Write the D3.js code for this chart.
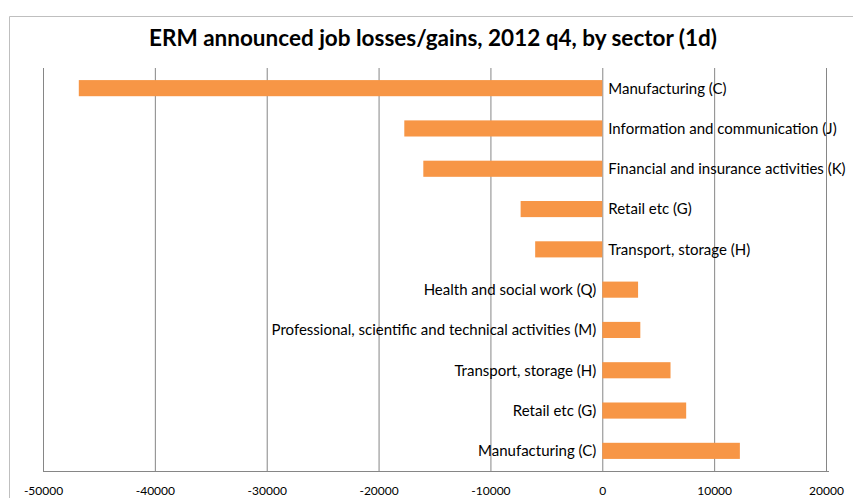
<!DOCTYPE html>
<html>
<head>
<meta charset="utf-8">
<script src="https://cdn.jsdelivr.net/npm/d3@7/dist/d3.min.js"></script>
<style>
  body { margin: 0; background: #fff; }
  svg { display: block; }
  text { font-family: Lato, "Open Sans", sans-serif; fill: #000; }
</style>
</head>
<body>
<svg id="chart" width="853" height="498"></svg>
<script>
// Data (top to bottom as drawn)
const categories = [
  "Manufacturing (C)",
  "Information and communication (J)",
  "Financial and insurance activities (K)",
  "Retail etc (G)",
  "Transport, storage (H)",
  "Health and social work (Q)",
  "Professional, scientific and technical activities (M)",
  "Transport, storage (H)",
  "Retail etc (G)",
  "Manufacturing (C)"
];
const values = [-46800, -17700, -16000, -7300, -6000, 3200, 3400, 6100, 7500, 12300];
const xTicks = [-50000, -40000, -30000, -20000, -10000, 0, 10000, 20000];
const title = "ERM announced job losses/gains, 2012 q4, by sector (1d)";

const svg = d3.select("#chart");
const W = 853, H = 498;
const m = { left: 43, right: 853 - 826, top: 68, bottom: 498 - 471 };

// outer chart border (top & left visible)
svg.append("path")
  .attr("d", `M9.5,${H} V16.5 H${W}`)
  .attr("fill", "none")
  .attr("stroke", "#bfbfbf")
  .attr("stroke-width", 1);

svg.append("text")
  .attr("x", 433).attr("y", 46)
  .attr("text-anchor", "middle")
  .attr("font-size", 22.5)
  .attr("font-weight", "bold")
  .text(title);

const x = d3.scaleLinear().domain([-50000, 20000]).range([m.left, W - m.right]);
const y = d3.scaleBand().domain(d3.range(categories.length))
  .range([m.top, H - m.bottom]).paddingInner(0.6).paddingOuter(0.3);

// gridlines
svg.append("g")
  .attr("transform", `translate(0,${H - m.bottom})`)
  .call(d3.axisBottom(x).tickValues(xTicks).tickSize(-(H - m.bottom - m.top)).tickFormat(""))
  .call(g => g.select(".domain").remove())
  .call(g => g.selectAll("line").attr("stroke", "#868686"));

// bars
svg.append("g").selectAll("rect")
  .data(values)
  .join("rect")
  .attr("x", d => x(Math.min(0, d)))
  .attr("width", d => Math.abs(x(d) - x(0)))
  .attr("y", (d, i) => y(i))
  .attr("height", y.bandwidth())
  .attr("fill", "#f79646");

// x axis
const ax = svg.append("g")
  .attr("transform", `translate(0,${H - m.bottom})`)
  .call(d3.axisBottom(x).tickValues(xTicks).tickSize(0).tickPadding(15).tickFormat(d => String(d)));
ax.select(".domain").attr("stroke", "#868686").attr("d", `M${m.left},0.5H${W - m.right + 3}`);
ax.selectAll("text").attr("font-size", 12).attr("font-family", "Lato, sans-serif").attr("fill", "#000");

// category labels near zero
svg.append("g").selectAll("text")
  .data(values)
  .join("text")
  .attr("x", d => d < 0 ? x(0) + 6 : x(0) - 6)
  .attr("y", (d, i) => y(i) + y.bandwidth() / 2)
  .attr("dy", "0.36em")
  .attr("text-anchor", d => d < 0 ? "start" : "end")
  .attr("font-size", 15)
  .text((d, i) => categories[i]);
</script>
</body>
</html>
